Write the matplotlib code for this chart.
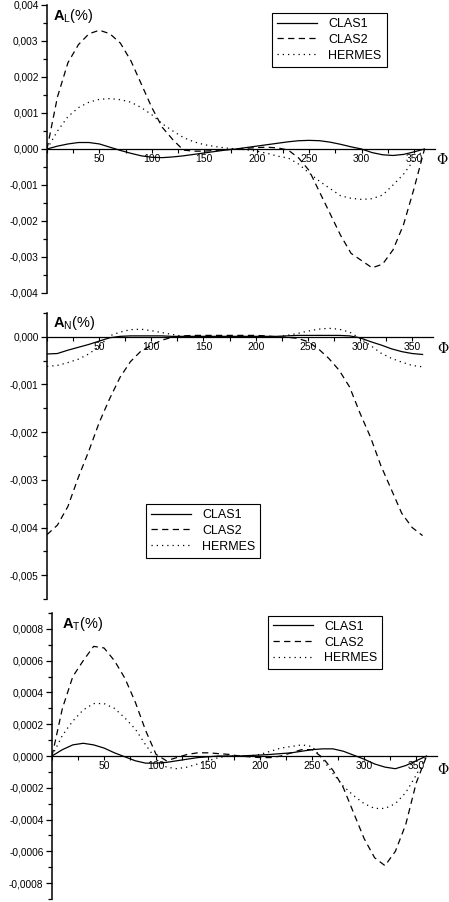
import matplotlib
matplotlib.use('Agg')
import matplotlib.pyplot as plt
from matplotlib.ticker import FixedLocator, MultipleLocator, FuncFormatter

plt.rcParams['font.family'] = ['Liberation Sans', 'DejaVu Sans']
plt.rcParams['mathtext.fontset'] = 'custom'
plt.rcParams['mathtext.rm'] = 'Liberation Sans'
plt.rcParams['mathtext.bf'] = 'Liberation Sans:bold'

# azimuthal angle grid (degrees)
phi = list(range(0, 361, 10))

# A_L
clas1_L = [0.0, 0.00008, 0.00014, 0.00018, 0.00018, 0.00014, 0.00005, -0.00004, -0.00012, -0.00019,
           -0.00023, -0.00024, -0.00022, -0.00019, -0.00015, -0.00011, -0.00007, -0.00003, 0.0,
           0.00004, 0.00008, 0.00012, 0.00016, 0.0002, 0.00023, 0.00024, 0.00023, 0.00019, 0.00013,
           0.00006, 0.0, -0.0001, -0.00016, -0.00018, -0.00015, -0.00008, 0.0]
clas2_L = [0.0, 0.00145, 0.0024, 0.0029, 0.0032, 0.0033, 0.0032, 0.00294, 0.00245, 0.0018,
           0.00115, 0.0006, 0.00026, -0.00003, -0.00006, -0.00006, -0.00004, -0.00002, 0.0,
           0.00002, 0.00004, 0.00005, 0.00003, -0.00003, -0.00025, -0.0006, -0.0012, -0.0018, -0.0024,
           -0.0029, -0.0031, -0.0033, -0.0032, -0.0028, -0.0021, -0.0011, 0.0]
hermes_L = [0.0, 0.0005, 0.0009, 0.00115, 0.0013, 0.00138, 0.0014, 0.00137, 0.0013, 0.00115,
            0.00095, 0.0007, 0.0005, 0.00032, 0.0002, 0.00012, 0.00007, 0.00003, 0.0,
            -0.00002, -0.00006, -0.00012, -0.0002, -0.00025, -0.00042, -0.00067, -0.0009, -0.0011, -0.0013,
            -0.00137, -0.0014, -0.00138, -0.00128, -0.001, -0.0007, -0.0003, 0.0]

# A_N
clas1_N = [-0.00036, -0.00035, -0.00028, -0.00022, -0.00016, -0.00009, -0.00002, 0.00001, 0.00002, 0.00002,
           0.00002, 0.00002, 0.00001, 0.00001, 0.00001, 0.00001, 0.00001, 0.00001, 0.00001,
           0.00001, 0.00001, 0.00001, 0.00001, 0.00002, 0.00003, 0.00003, 0.00003, 0.00003, 0.00003,
           0.00002, -0.00002, -0.0001, -0.00017, -0.00025, -0.00031, -0.00035, -0.00037]
clas2_N = [-0.00415, -0.00395, -0.00356, -0.00295, -0.0024, -0.0018, -0.0013, -0.00085, -0.00052, -0.0003,
           -0.00018, -0.00007, -0.00001, 0.00002, 0.00003, 0.00003, 0.00003, 0.00003, 0.00003,
           0.00003, 0.00003, 0.00002, 0.0, -0.00001, -0.00003, -0.0001, -0.00025, -0.00045, -0.0007,
           -0.00105, -0.0016, -0.0021, -0.0027, -0.0032, -0.0037, -0.004, -0.00417]
hermes_N = [-0.00062, -0.0006, -0.00054, -0.00047, -0.00036, -0.0002, 0.00002, 0.0001, 0.00015, 0.00016,
            0.00013, 0.00009, 0.00005, 0.00001, -0.00001, -0.00001, -0.00001, -0.00001, -0.00001,
            -0.00001, -0.00001, 0.0, 0.0, 0.00003, 0.00007, 0.00012, 0.00016, 0.00018, 0.00016,
            0.0001, -0.00003, -0.00018, -0.00034, -0.00045, -0.00053, -0.0006, -0.00063]

# A_T
clas1_T = [0.0, 0.00004, 0.00007, 0.00008, 0.00007, 0.00005, 0.00002, -0.000005, -0.00003, -0.000045,
           -0.000045, -0.00004, -0.00003, -0.00002, -0.00001, -0.000005, 0.0, 0.0, 0.0,
           0.000003, 0.000006, 0.00001, 0.000015, 0.00002, 0.00003, 0.00004, 0.000045, 0.000045, 0.00003,
           0.000005, -0.00002, -0.00005, -0.00007, -0.00008, -0.00006, -0.00003, 0.0]
clas2_T = [0.0, 0.0003, 0.0005, 0.0006, 0.00069, 0.00068, 0.0006, 0.00049, 0.00034, 0.00016,
           0.00001, -0.00003, -0.00001, 0.00001, 0.00002, 0.00002, 0.000015, 0.00001, 0.0,
           -0.000005, -0.00001, -0.00001, 0.0, 0.00002, 0.00004, 0.00004, -0.00001, -0.00009, -0.0002,
           -0.00036, -0.00052, -0.00064, -0.00069, -0.0006, -0.00043, -0.00017, 0.0]
hermes_T = [0.0, 0.00013, 0.00022, 0.00029, 0.00033, 0.00033, 0.0003, 0.00024, 0.00017, 0.00007,
            -0.00002, -0.00007, -0.00008, -0.00007, -0.00005, -0.00003, -0.00001, 0.0, 0.0,
            0.0, 0.00001, 0.00003, 0.00005, 0.00006, 0.00007, 0.00006, -0.00002, -0.00011, -0.00019,
            -0.00025, -0.0003, -0.00033, -0.00033, -0.0003, -0.00023, -0.00012, 0.0]

labels = ['CLAS1', 'CLAS2', 'HERMES']
styles = ['-', (0, (5, 3.5)), (0, (1, 3.2))]
x_ticks = [50, 100, 150, 200, 250, 300, 350]


def comma_fmt(decimals):
    def f(v, pos):
        if abs(v) < 1e-12:
            v = 0.0
        return f'{v:.{decimals}f}'.replace('.', ',')
    return FuncFormatter(f)


def style_axis(ax, ylim, major, minor, decimals):
    ax.set_xlim(0, 370)
    ax.set_ylim(*ylim)
    ax.spines['top'].set_visible(False)
    ax.spines['right'].set_visible(False)
    ax.spines['bottom'].set_position(('data', 0))
    ax.spines['bottom'].set_linewidth(0.9)
    ax.spines['left'].set_linewidth(1.1)
    ax.xaxis.set_major_locator(FixedLocator(x_ticks))
    ax.xaxis.set_minor_locator(MultipleLocator(25))
    ax.yaxis.set_major_locator(MultipleLocator(major))
    ax.yaxis.set_minor_locator(MultipleLocator(minor))
    ax.yaxis.set_major_formatter(comma_fmt(decimals))
    ax.tick_params(axis='x', which='major', direction='out', length=3.2, width=0.8,
                   pad=0.5, labelsize=7.5)
    ax.tick_params(axis='x', which='minor', direction='out', length=3.0, width=0.8)
    ax.tick_params(axis='y', which='major', direction='out', length=4.6, width=0.9,
                   pad=1.5, labelsize=7.3)
    ax.tick_params(axis='y', which='minor', direction='out', length=2.8, width=0.9)
    ax.patch.set_visible(False)


def draw_panel(ax, series, sub, title_xy, leg_xy, phi_off):
    for vals, lab, ls in zip(series, labels, styles):
        ax.plot(phi, vals, color='black', linestyle=ls, linewidth=0.9, label=lab)
    ax.text(title_xy[0], title_xy[1], r'$\mathbf{A}_{\mathrm{' + sub + '}}$(%)',
            transform=ax.transAxes, ha='left', va='top', fontsize=10.5)
    ax.annotate('Φ', xy=(1, 0), xycoords=('axes fraction', 'data'),
                xytext=phi_off, textcoords='offset points', ha='center', va='center',
                fontsize=10, family='DejaVu Serif')
    leg = ax.legend(loc='upper left', bbox_to_anchor=leg_xy, borderaxespad=0,
                    fontsize=9, handlelength=3.2, handletextpad=0.9, labelspacing=0.3,
                    borderpad=0.4, fancybox=False, framealpha=1, edgecolor='black')
    leg.get_frame().set_linewidth(0.8)


W, H = 449, 902
fig = plt.figure(figsize=(W / 100, H / 100), dpi=100)

ax1 = fig.add_axes([47 / W, 1 - 293 / H, 388 / W, 288 / H])
style_axis(ax1, (-0.004, 0.004), 0.001, 0.0005, 3)
draw_panel(ax1, [clas1_L, clas2_L, hermes_L], 'L', (0.015, 0.993), (0.58, 0.972), (5, -8))

ax2 = fig.add_axes([47 / W, 1 - 599 / H, 386 / W, 286 / H])
style_axis(ax2, (-0.0055, 0.0005), 0.001, 0.0005, 3)
draw_panel(ax2, [clas1_N, clas2_N, hermes_N], 'N', (0.015, 0.998), (0.256, 0.332), (7, -9))

ax3 = fig.add_axes([52 / W, 1 - 899 / H, 385 / W, 286 / H])
style_axis(ax3, (-0.0009, 0.0009), 0.0002, 0.0001, 4)
draw_panel(ax3, [clas1_T, clas2_T, hermes_T], 'T', (0.026, 0.993), (0.561, 0.99), (4.5, -10))

fig.savefig('out.png', dpi=100)
